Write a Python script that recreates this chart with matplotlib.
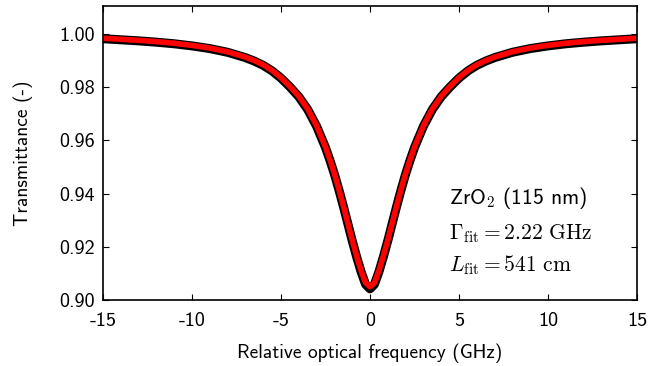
import matplotlib
matplotlib.use("Agg")
import matplotlib.pyplot as plt

# Relative optical frequency (GHz)
freq = [-15, -14, -13, -12, -11, -10, -9, -8, -7, -6.5, -6, -5.5, -5, -4.5, -4, -3.5,
        -3, -2.5, -2.25, -2, -1.75, -1.5, -1.25, -1, -0.75, -0.5, -0.25, 0,
        0.25, 0.5, 0.75, 1, 1.25, 1.5, 1.75, 2, 2.25, 2.5, 3, 3.5, 4, 4.5, 5,
        5.5, 6, 6.5, 7, 8, 9, 10, 11, 12, 13, 14, 15]
measured = [0.9982, 0.9978, 0.9974, 0.9969, 0.9963, 0.9955, 0.9945, 0.9931, 0.9911,
            0.9898, 0.9882, 0.9861, 0.9834, 0.9801, 0.9764, 0.9716, 0.9653, 0.9573,
            0.9525, 0.9473, 0.9415, 0.9353, 0.9288, 0.9223, 0.9162, 0.9106, 0.9059,
            0.9042,
            0.9059, 0.9106, 0.9162, 0.9223, 0.9288, 0.9353, 0.9415, 0.9473, 0.9525,
            0.9573, 0.9653, 0.9716, 0.9764, 0.9801, 0.9834, 0.9861, 0.9882, 0.9898,
            0.9911, 0.9931, 0.9945, 0.9955, 0.9963, 0.9969, 0.9974, 0.9978, 0.9982]
# Lorentzian fit
fit = [0.9984, 0.9980, 0.9976, 0.9971, 0.9965, 0.9957, 0.9947, 0.9933, 0.9913,
       0.9900, 0.9884, 0.9863, 0.9836, 0.9803, 0.9766, 0.9718, 0.9655, 0.9575,
       0.9527, 0.9475, 0.9417, 0.9355, 0.9290, 0.9225, 0.9165, 0.9110, 0.9065,
       0.9050,
       0.9065, 0.9110, 0.9165, 0.9225, 0.9290, 0.9355, 0.9417, 0.9475, 0.9527,
       0.9575, 0.9655, 0.9718, 0.9766, 0.9803, 0.9836, 0.9863, 0.9884, 0.9900,
       0.9913, 0.9933, 0.9947, 0.9957, 0.9965, 0.9971, 0.9976, 0.9980, 0.9984]

xticks = [-15, -10, -5, 0, 5, 10, 15]
xticklabels = ["-15", "-10", "-5", "0", "5", "10", "15"]
yticks = [0.90, 0.92, 0.94, 0.96, 0.98, 1.00]
yticklabels = ["0.90", "0.92", "0.94", "0.96", "0.98", "1.00"]

plt.rcParams["mathtext.fontset"] = "cm"
plt.rcParams["axes.unicode_minus"] = False
sans = ["cmss10", "DejaVu Sans"]

W, H = 660, 366
fig = plt.figure(figsize=(W / 100, H / 100), dpi=100)
ax = fig.add_axes([103 / W, 1 - 300 / H, 534 / W, 294 / H])

ax.plot(freq, measured, color="black", lw=6.5, solid_joinstyle="round", solid_capstyle="butt")
ax.plot(freq, fit, color="#ff0000", lw=4.0, solid_joinstyle="round")

ax.set_xlim(-15, 15)
ax.set_ylim(0.90, 1.0105)
ax.set_xticks(xticks)
ax.set_xticklabels(xticklabels, fontfamily=sans, fontsize=14.5)
ax.set_yticks(yticks)
ax.set_yticklabels(yticklabels, fontfamily=sans, fontsize=14.5)
ax.tick_params(direction="in", top=True, right=True, length=4, width=0.8)
ax.tick_params(axis="x", pad=9)
ax.tick_params(axis="y", pad=6)
for s in ax.spines.values():
    s.set_linewidth(1.2)

fig.text(370 / W, 1 - 353 / H, "Relative optical frequency (GHz)", fontfamily=sans,
         fontsize=14, ha="center", va="center")
fig.text(23 / W, 1 - 153 / H, "Transmittance (-)", fontfamily=sans,
         fontsize=14, ha="center", va="center", rotation=90)

fig.text(449 / W, 1 - 198 / H, r"ZrO$_2$ (115 nm)", fontfamily=sans, fontsize=15.5, va="center")
fig.text(449 / W, 1 - 234 / H, r"$\Gamma_{\rm fit} = 2.22\ {\rm GHz}$", fontsize=15.5, va="center")
fig.text(449 / W, 1 - 265 / H, r"$L_{\rm fit} = 541\ {\rm cm}$", fontsize=15.5, va="center")

fig.savefig("out.png", dpi=100)
